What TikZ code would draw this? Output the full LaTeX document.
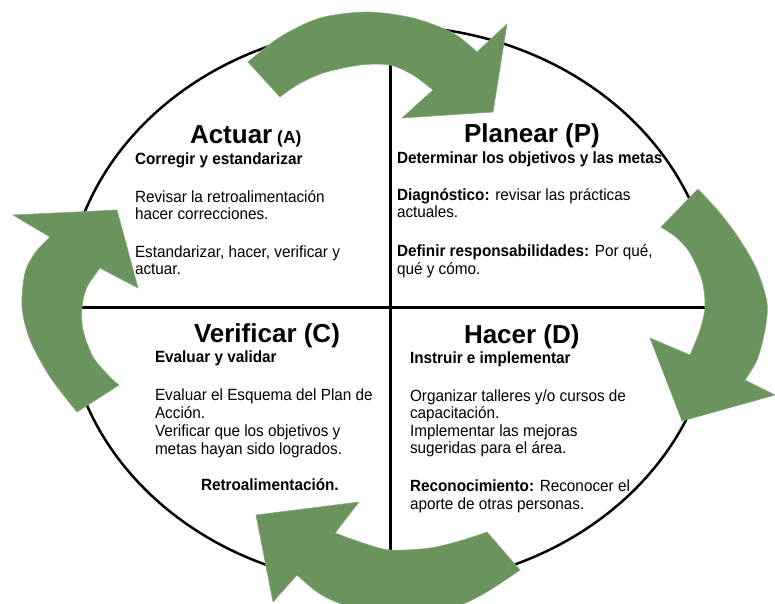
\documentclass[tikz,border=0pt]{standalone}
\usepackage{graphicx}
\usepackage{fontspec}
\setmainfont{Liberation Sans}
\definecolor{arrowgreen}{RGB}{107,147,93}
\newcommand{\tl}[1]{\scalebox{1}[1.06]{#1}}
\tikzset{
  body/.style={anchor=base west, inner sep=0pt, outer sep=0pt, font=\fontsize{15.3}{17.6}\selectfont},
  sub/.style={anchor=base west, inner sep=0pt, outer sep=0pt, font=\fontsize{15.3}{17.6}\selectfont\bfseries},
  ttl/.style={anchor=base west, inner sep=0pt, outer sep=0pt, font=\fontsize{26}{30}\selectfont\bfseries},
  cyc/.style={fill=arrowgreen, draw=arrowgreen!80!white, line width=0.6pt, line join=miter},
  divline/.style={line width=3pt},
  rim/.style={line width=2.5pt}
}
\begin{document}
\begin{tikzpicture}[x=1pt,y=-1pt]
\useasboundingbox (0,0) rectangle (775,603);
\fill[white] (0,0) rectangle (775,603);
% outline
\coordinate (ctr) at (390,306);
\draw[rim] (ctr) ellipse [x radius=324, y radius=280];
\coordinate (hl) at (66.5,307);
\coordinate (hr) at (713.5,307);
\coordinate (vt) at (390,27);
\coordinate (vb) at (390,585);
\draw[divline] (hl) -- (hr);
\draw[divline] (vt) -- (vb);
% Actuar
\node[ttl] (ta) at (190,143) {Actuar{\fontsize{17.5}{20}\selectfont\ (A)}};
\node[sub] (a1) at (135,164) {\tl{Corregir y estandarizar}};
\node[body] (a2) at (135,202) {\tl{Revisar la retroalimentación}};
\node[body] (a3) at (135,219.5) {\tl{hacer correcciones.}};
\node[body] (a4) at (135,257) {\tl{Estandarizar, hacer, verificar y}};
\node[body] (a5) at (135,274.5) {\tl{actuar.}};
% Planear
\node[ttl] (tp) at (464,142.7) {Planear (P)};
\node[sub] (p1) at (397,163.3) {\tl{Determinar los objetivos y las metas}};
\node[body] (p2) at (397,200) {\tl{\textbf{Diagnóstico:} revisar las prácticas}};
\node[body] (p3) at (397,217.5) {\tl{actuales.}};
\node[body] (p4) at (397,256.7) {\tl{\textbf{Definir responsabilidades:} Por qué,}};
\node[body] (p5) at (397,274) {\tl{qué y cómo.}};
% Verificar
\node[ttl] (tc) at (194,342) {Verificar (C)};
\node[sub] (c1) at (155,362) {\tl{Evaluar y validar}};
\node[body] (c2) at (155,400.7) {\tl{Evaluar el Esquema del Plan de}};
\node[body] (c3) at (155,418.3) {\tl{Acción.}};
\node[body] (c4) at (155,436.5) {\tl{Verificar que los objetivos y}};
\node[body] (c5) at (155,454) {\tl{metas hayan sido logrados.}};
\node[sub] (c6) at (201,490) {\tl{Retroalimentación.}};
% Hacer
\node[ttl] (td) at (464,343) {Hacer (D)};
\node[sub] (d1) at (410,363.3) {\tl{Instruir e implementar}};
\node[body] (d2) at (410,401.7) {\tl{Organizar talleres y/o cursos de}};
\node[body] (d3) at (410,418.8) {\tl{capacitación.}};
\node[body] (d4) at (410,436) {\tl{Implementar las mejoras}};
\node[body] (d5) at (410,453.3) {\tl{sugeridas para el área.}};
\node[body] (d6) at (410,491.7) {\tl{\textbf{Reconocimiento:} Reconocer el}};
\node[body] (d7) at (410,509) {\tl{aporte de otras personas.}};
% arrows
% top: Actuar -> Planear
\filldraw[cyc] plot[smooth] coordinates {(248,62) (280,37) (320,18) (367,12) (413,18) (453,33) (477,52)}
  -- (507,24) -- (493,112) -- (402,118)
  -- plot[smooth] coordinates {(433,90) (413,75) (390,65) (360,65) (323,73) (297,85) (280,97)} -- cycle;
% right: Planear -> Hacer
\filldraw[cyc] plot[smooth] coordinates {(698,189) (720,213) (740,240) (757,270) (767,303) (765,330) (757,360) (745,380)}
  -- (775,395) -- (682,421) -- (650,338)
  -- plot[smooth] coordinates {(690,355) (700,330) (705,307) (702,280) (690,253) (677,238) (661,227)} -- cycle;
% bottom: Hacer -> Verificar
\filldraw[cyc] plot[smooth] coordinates {(520,570) (490,590) (463,604) (430,612) (390,614) (350,607) (320,594) (297,575)}
  -- (273,602) -- (256,515) -- (359,502)
  -- plot[smooth] coordinates {(335,533) (363,543) (390,550) (430,548) (463,540) (487,532)} -- cycle;
% left: Verificar -> Actuar
\filldraw[cyc] plot[smooth] coordinates {(77,412) (50,377) (30,340) (22,307) (25,273) (35,253) (50,237)}
  -- (13,215) -- (117,210) -- (138,288)
  -- plot[smooth] coordinates {(100,268) (87,287) (82,307) (83,330) (93,357) (110,377) (119,385)} -- cycle;
\end{tikzpicture}
\end{document}
